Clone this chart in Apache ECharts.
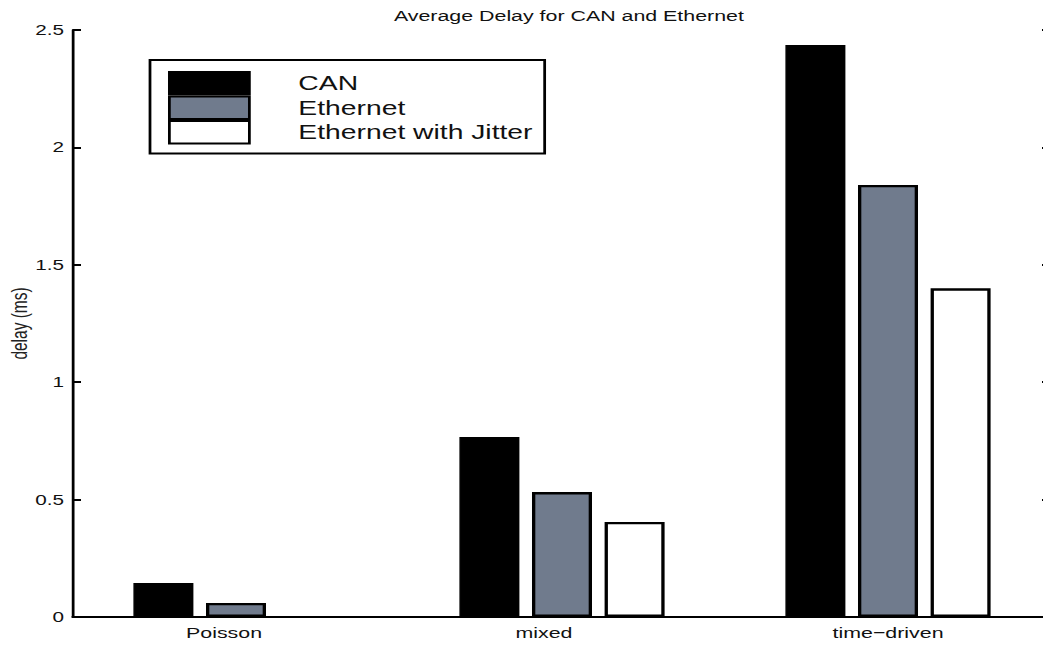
<!DOCTYPE html>
<html>
<head>
<meta charset="utf-8">
<script src="https://cdn.jsdelivr.net/npm/echarts@6/dist/echarts.min.js"></script>
<style>
  html, body { margin: 0; padding: 0; background: #fff; width: 1043px; height: 645px; overflow: hidden; }
  /* The figure uses a horizontally widened look: the chart is laid out
     narrower and stretched along x so that text comes out wide. */
  #chart { width: 770px; height: 645px; transform: scaleX(1.38); transform-origin: 0 0; }
</style>
</head>
<body>
<div id="chart"></div>
<script>
// Traffic scenarios on the x axis
const categories = ['Poisson', 'mixed', 'time\u2212driven'];
// Average delay per scenario, in milliseconds
const canDelay = [0.145, 0.767, 2.436];
const ethernetDelay = [0.06, 0.532, 1.84];
const jitterDelay = [0, 0.405, 1.40];
// Value axis ticks
const yTicks = [0, 0.5, 1, 1.5, 2, 2.5];

const S = 1.38;                 // horizontal stretch applied by CSS
const ux = px => px / S;        // screen x distance -> layout units
const FONT = '"Liberation Sans", Arial, Helvetica, sans-serif';

// small leftward nudges (screen px) of the category labels
const labelNudge = [12, 18, 0];

const chart = echarts.init(document.getElementById('chart'), null, { renderer: 'svg' });

const barBase = { type: 'bar', barWidth: ux(60), barGap: '21%', xAxisIndex: 0, yAxisIndex: 0 };
// zero-height bars leave no outline
const asItems = arr => arr.map(v => v === 0 ? { value: v, itemStyle: { borderWidth: 0 } } : v);

const bottomCategories = categories.map((c, i) => ({
  value: c,
  textStyle: { padding: [0, 2 * ux(labelNudge[i]), 0, 0] }
}));

chart.setOption({
  animation: false,
  backgroundColor: '#ffffff',
  title: {
    text: 'Average Delay for CAN and Ethernet',
    left: ux(562), top: 3, textAlign: 'center',
    textStyle: { fontFamily: FONT, fontSize: 15.5, fontWeight: 'normal', color: '#111' }
  },
  grid: {
    left: ux(73), width: ux(978), top: 30, bottom: 28,
    containLabel: false, outerBoundsMode: 'none'
  },
  legend: {
    orient: 'vertical',
    left: ux(150), top: 60,
    padding: [11, ux(12), 9, ux(18)],
    itemGap: 0,
    itemWidth: ux(80), itemHeight: 22.5,
    icon: 'rect',
    borderColor: '#000', borderWidth: 2,
    textStyle: {
      fontFamily: FONT, fontSize: 20.5, lineHeight: 22.5, color: '#111',
      padding: [0, 0, 0, ux(49) - 5]
    },
    data: ['CAN', 'Ethernet', 'Ethernet with Jitter']
  },
  xAxis: [
    {
      type: 'category', data: bottomCategories, position: 'bottom',
      axisLine: { lineStyle: { color: '#000', width: 2.2 } },
      axisTick: { show: false },
      axisLabel: { fontFamily: FONT, fontSize: 15.5, color: '#111', margin: 8 }
    },
    {
      type: 'category', data: categories, position: 'top',
      axisLine: { lineStyle: { color: '#000', width: 2.2 } },
      axisTick: { inside: true, alignWithLabel: true, length: 7, lineStyle: { width: 2, color: '#000' } },
      axisLabel: { show: false }
    }
  ],
  yAxis: [
    {
      type: 'value', min: 0, max: 2.5, interval: 0.5, position: 'left',
      name: 'delay (ms)', nameLocation: 'middle', nameGap: 31, nameRotate: 90,
      nameMoveOverlap: false,
      nameTextStyle: { fontFamily: FONT, fontSize: 15.5, color: '#222' },
      axisLine: { show: true, lineStyle: { color: '#000', width: 2 } },
      axisTick: { show: true, inside: true, length: ux(8), lineStyle: { width: 2, color: '#000' } },
      splitLine: { show: false },
      axisLabel: {
        fontFamily: FONT, fontSize: 15, color: '#111', margin: ux(9),
        formatter: v => yTicks.includes(v) ? String(v) : ''
      }
    },
    {
      type: 'value', min: 0, max: 2.5, interval: 0.5, position: 'right',
      axisLine: { show: true, lineStyle: { color: '#000', width: 2 } },
      axisTick: { show: true, inside: true, length: ux(9), lineStyle: { width: 2, color: '#000' } },
      splitLine: { show: false },
      axisLabel: { show: false }
    }
  ],
  series: [
    Object.assign({}, barBase, {
      name: 'CAN', data: asItems(canDelay),
      itemStyle: { color: '#000000', borderColor: '#000', borderWidth: 1 }
    }),
    Object.assign({}, barBase, {
      name: 'Ethernet', data: asItems(ethernetDelay),
      itemStyle: { color: '#707b8d', borderColor: '#000', borderWidth: 2.4 }
    }),
    Object.assign({}, barBase, {
      name: 'Ethernet with Jitter', data: asItems(jitterDelay),
      itemStyle: { color: '#ffffff', borderColor: '#000', borderWidth: 2.4 }
    })
  ]
});
</script>
</body>
</html>
